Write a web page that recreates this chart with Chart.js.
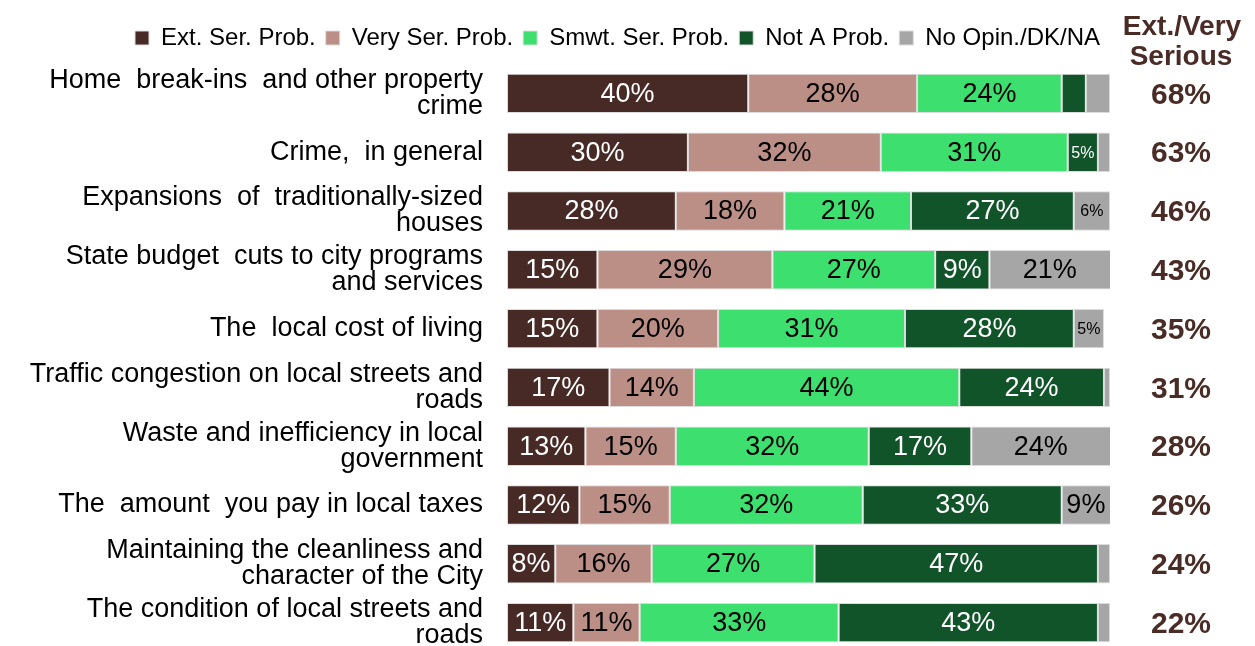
<!DOCTYPE html>
<html>
<head>
<meta charset="utf-8">
<script src="https://cdn.jsdelivr.net/npm/chart.js@4.4.1/dist/chart.umd.min.js"></script>
<style>
  html, body { margin: 0; padding: 0; background: #fff; overflow: hidden; }
  #wrap { position: relative; width: 1255px; height: 660px; }
</style>
</head>
<body>
<div id="wrap"><canvas id="chart"></canvas></div>
<script>
const categories = [
    ['Home  break-ins  and other property', 'crime'],
    'Crime,  in general',
    ['Expansions  of  traditionally-sized', 'houses'],
    ['State budget  cuts to city programs', 'and services'],
    'The  local cost of living',
    ['Traffic congestion on local streets and', 'roads'],
    ['Waste and inefficiency in local', 'government'],
    'The  amount  you pay in local taxes',
    ['Maintaining the cleanliness and', 'character of the City'],
    ['The condition of local streets and', 'roads']
];

const seriesNames = ['Ext. Ser. Prob.', 'Very Ser. Prob.', 'Smwt. Ser. Prob.', 'Not A Prob.', 'No Opin./DK/NA'];

const extSerious  = [40, 30, 28, 15, 15, 17, 13, 12, 8, 11];
const verySerious = [28, 32, 18, 29, 20, 14, 15, 15, 16, 11];
const smwtSerious = [24, 31, 21, 27, 31, 44, 32, 32, 27, 33];
const notAProb    = [4, 5, 27, 9, 28, 24, 17, 33, 47, 43];
const noOpinion   = [4, 2, 6, 21, 5, 1, 24, 9, 2, 2];

// right-hand column: Ext./Very Serious combined
const extVeryTotal = [68, 63, 46, 43, 35, 31, 28, 26, 24, 22];

const colors = ['#472a25', '#bc8f86', '#3ddf6f', '#11542a', '#a6a6a6'];
const labelColors = ['#ffffff', '#000000', '#000000', '#ffffff', '#000000'];
const FONT = '"Liberation Sans", Arial, sans-serif';

const seriesData = [extSerious, verySerious, smwtSerious, notAProb, noOpinion];

// a bit more room under the legend
const legendGap = {
    id: 'legendGap',
    beforeInit(chart) {
        const origFit = chart.legend.fit;
        chart.legend.fit = function() {
            origFit.call(this);
            this.height += 4;
        };
    }
};

// Draws the % labels inside the segments and the right column
const labelPlugin = {
    id: 'segmentLabels',
    afterDatasetsDraw(chart) {
        const ctx = chart.ctx;
        ctx.save();
        ctx.textAlign = 'center';
        ctx.textBaseline = 'middle';
        chart.data.datasets.forEach((ds, di) => {
            const meta = chart.getDatasetMeta(di);
            meta.data.forEach((bar, i) => {
                const v = ds.data[i];
                if (v < 5) return;
                const left = Math.min(bar.x, bar.base);
                const right = Math.min(Math.max(bar.x, bar.base), chart.chartArea.right);
                ctx.fillStyle = labelColors[di];
                ctx.font = (v <= 6 ? '16px ' : '27px ') + FONT;
                ctx.fillText(v + '%', (left + right) / 2, bar.y + 1);
            });
        });

        const yScale = chart.scales.y;
        ctx.fillStyle = '#4a2c26';
        ctx.font = 'bold 30px ' + FONT;
        extVeryTotal.forEach((v, i) => {
            ctx.fillText(v + '%', 1181, yScale.getPixelForValue(i) + 2);
        });
        ctx.font = 'bold 28px ' + FONT;
        ctx.fillText('Ext./Very', 1182, 27);
        ctx.fillText('Serious', 1181, 57);
        ctx.restore();
    }
};

new Chart(document.getElementById('chart').getContext('2d'), {
    type: 'bar',
    data: {
        labels: categories,
        datasets: seriesNames.map((name, i) => ({
            label: name,
            data: seriesData[i],
            backgroundColor: colors[i],
            borderColor: '#dcdcdc',
            borderWidth: 1,
            borderSkipped: false,
            barPercentage: 0.67,
            categoryPercentage: 1
        }))
    },
    options: {
        indexAxis: 'y',
        responsive: true,
        maintainAspectRatio: false,
        animation: false,
        layout: {
            padding: { top: 16, right: 145, bottom: 8, left: 0 }
        },
        scales: {
            x: {
                stacked: true,
                min: 0,
                max: 100,
                display: false
            },
            y: {
                stacked: true,
                grid: { display: false, drawTicks: false },
                border: { display: false },
                ticks: {
                    color: '#000',
                    padding: 24,
                    font: { family: FONT, size: 27, lineHeight: 0.96 }
                },
                afterFit(scale) {
                    scale.width = 507;
                    // no extra room for the multi-line labels at top/bottom
                    scale.paddingTop = 0;
                    scale.paddingBottom = 0;
                }
            }
        },
        plugins: {
            legend: {
                position: 'top',
                align: 'end',
                labels: {
                    boxWidth: 14,
                    boxHeight: 14,
                    padding: 10,
                    color: '#000',
                    font: { family: FONT, size: 24 }
                }
            },
            tooltip: { enabled: false }
        }
    },
    plugins: [legendGap, labelPlugin]
});
</script>
</body>
</html>
